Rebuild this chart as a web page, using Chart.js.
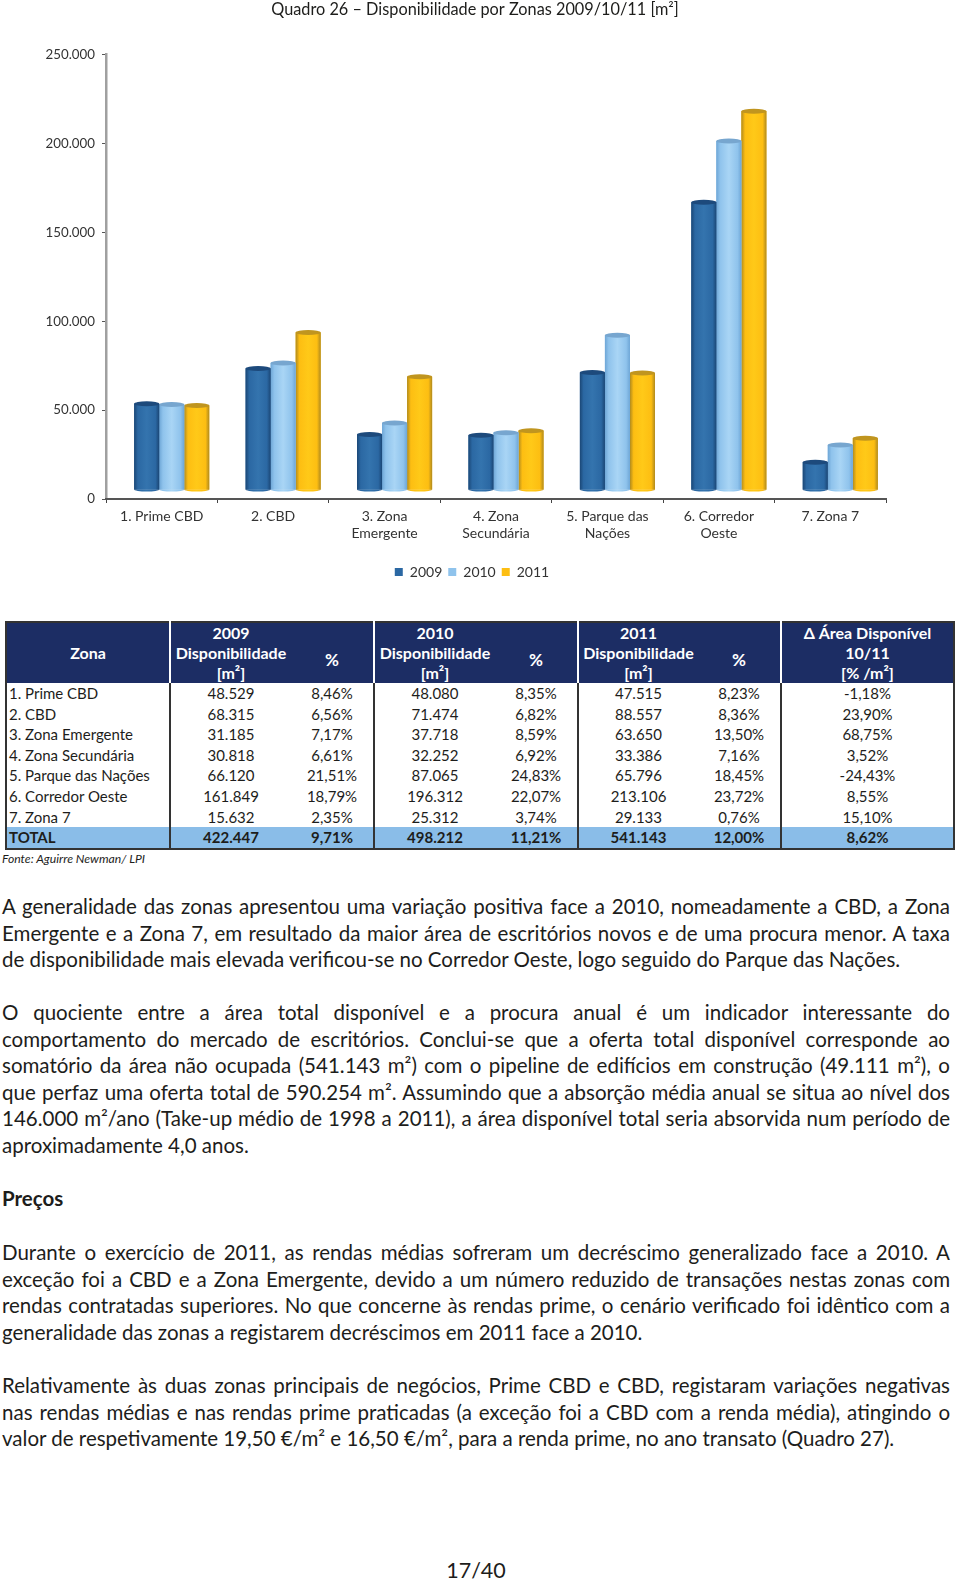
<!DOCTYPE html>
<html lang="pt">
<head>
<meta charset="utf-8">
<title>Quadro 26</title>
<script src="https://cdn.jsdelivr.net/npm/chart.js@4/dist/chart.umd.min.js"></script>
<style>
html, body { margin: 0; padding: 0; background: #fff; }
body { position: relative; width: 960px; height: 1584px; overflow: hidden; font-family: Lato, sans-serif; color: #1d1d1b; }
#chartBox { position: absolute; left: 0; top: 0; width: 960px; height: 595px; }
table { position: absolute; left: 5px; top: 621px; width: 948px; border-collapse: collapse; table-layout: fixed; font-size: 15px; border: 2px solid #333; }
th { background: #1c2d64; color: #fff; font-size: 16px; font-weight: 700; line-height: 20px; padding: 0; text-align: center; }
th.pct { padding-top: 14px; font-size: 17px; }
td { height: 20.6px; line-height: 20.6px; padding: 0; text-align: center; }
td:first-child { text-align: left; padding-left: 2px; }
.sep { border-left: 2px solid #333; }
th.sep { border-left: 2px solid #fff; }
tr.total td { background: #8abde8; font-weight: 700; }
#fonte { position: absolute; left: 2px; top: 851px; font-size: 12.2px; font-style: italic; }
.bloco { position: absolute; left: 2px; width: 948px; font-size: 20.5px; line-height: 26.5px; }
.bloco div { text-align: justify; text-align-last: justify; white-space: nowrap; }
.bloco div.fim { text-align-last: left; }
#pag { position: absolute; left: 0; width: 952px; top: 1555px; line-height: 30px; text-align: center; font-size: 21.5px; }
</style>
</head>
<body>
<div id="chartBox"><canvas id="chartDisp"></canvas></div>

<table id="tabela">
<colgroup>
<col style="width:164px"><col style="width:121px"><col style="width:83px"><col style="width:121px"><col style="width:83px"><col style="width:120px"><col style="width:83px"><col style="width:173px">
</colgroup>
<thead>
<tr><th rowspan="3">Zona</th><th class="sep">2009</th><th rowspan="3" class="pct">%</th><th class="sep">2010</th><th rowspan="3" class="pct">%</th><th class="sep">2011</th><th rowspan="3" class="pct">%</th><th class="sep">Δ Área Disponível</th></tr>
<tr><th class="sep">Disponibilidade</th><th class="sep">Disponibilidade</th><th class="sep">Disponibilidade</th><th class="sep">10/11</th></tr>
<tr><th class="sep">[m²]</th><th class="sep">[m²]</th><th class="sep">[m²]</th><th class="sep">[% /m²]</th></tr>
</thead>
<tbody id="corpo"></tbody>
</table>
<div id="fonte">Fonte: Aguirre Newman/ LPI</div>

<div class="bloco" style="top:893px">
<div>A generalidade das zonas apresentou uma variação positiva face a 2010, nomeadamente a CBD, a Zona</div>
<div>Emergente e a Zona 7, em resultado da maior área de escritórios novos e de uma procura menor. A taxa</div>
<div class="fim">de disponibilidade mais elevada verificou-se no Corredor Oeste, logo seguido do Parque das Nações.</div>
</div>
<div class="bloco" style="top:999px">
<div>O quociente entre a área total disponível e a procura anual é um indicador interessante do</div>
<div>comportamento do mercado de escritórios. Conclui-se que a oferta total disponível corresponde ao</div>
<div>somatório da área não ocupada (541.143 m²) com o pipeline de edifícios em construção (49.111 m²), o</div>
<div>que perfaz uma oferta total de 590.254 m². Assumindo que a absorção média anual se situa ao nível dos</div>
<div>146.000 m²/ano (Take-up médio de 1998 a 2011), a área disponível total seria absorvida num período de</div>
<div class="fim">aproximadamente 4,0 anos.</div>
</div>
<div class="bloco" style="top:1185px"><div class="fim"><b>Preços</b></div></div>
<div class="bloco" style="top:1239px">
<div>Durante o exercício de 2011, as rendas médias sofreram um decréscimo generalizado face a 2010. A</div>
<div>exceção foi a CBD e a Zona Emergente, devido a um número reduzido de transações nestas zonas com</div>
<div>rendas contratadas superiores. No que concerne às rendas prime, o cenário verificado foi idêntico com a</div>
<div class="fim">generalidade das zonas a registarem decréscimos em 2011 face a 2010.</div>
</div>
<div class="bloco" style="top:1372px">
<div>Relativamente às duas zonas principais de negócios, Prime CBD e CBD, registaram variações negativas</div>
<div>nas rendas médias e nas rendas prime praticadas (a exceção foi a CBD com a renda média), atingindo o</div>
<div class="fim">valor de respetivamente 19,50 €/m² e 16,50 €/m², para a renda prime, no ano transato (Quadro 27).</div>
</div>
<div id="pag">17/40</div>

<script>
// dados do quadro
var zonas = ['1. Prime CBD', '2. CBD', '3. Zona Emergente', '4. Zona Secundária', '5. Parque das Nações', '6. Corredor Oeste', '7. Zona 7'];
var rotulos = ['1. Prime CBD', '2. CBD', ['3. Zona', 'Emergente'], ['4. Zona', 'Secundária'], ['5. Parque das', 'Nações'], ['6. Corredor', 'Oeste'], '7. Zona 7'];
var valores2009 = [48529, 68315, 31185, 30818, 66120, 161849, 15632];
var valores2010 = [48080, 71474, 37718, 32252, 87065, 196312, 25312];
var valores2011 = [47515, 88557, 63650, 33386, 65796, 213106, 29133];
var pct2009 = ['8,46%', '6,56%', '7,17%', '6,61%', '21,51%', '18,79%', '2,35%'];
var pct2010 = ['8,35%', '6,82%', '8,59%', '6,92%', '24,83%', '22,07%', '3,74%'];
var pct2011 = ['8,23%', '8,36%', '13,50%', '7,16%', '18,45%', '23,72%', '0,76%'];
var delta = ['-1,18%', '23,90%', '68,75%', '3,52%', '-24,43%', '8,55%', '15,10%'];
var totais = ['TOTAL', '422.447', '9,71%', '498.212', '11,21%', '541.143', '12,00%', '8,62%'];

function milhar(n) {
    return String(n).replace(/\B(?=(\d{3})+$)/g, '.');
}

// linhas da tabela
var corpo = document.getElementById('corpo');
function linha(celulas, classe) {
    var tr = document.createElement('tr');
    if (classe) tr.className = classe;
    celulas.forEach(function (txt, i) {
        var td = document.createElement('td');
        td.textContent = txt;
        if (i % 2 == 1) td.className = 'sep';
        tr.appendChild(td);
    });
    corpo.appendChild(tr);
}
zonas.forEach(function (z, i) {
    linha([z, milhar(valores2009[i]), pct2009[i], milhar(valores2010[i]), pct2010[i], milhar(valores2011[i]), pct2011[i], delta[i]]);
});
linha(totais, 'total');

// efeito de cilindro 3D das barras do original
var cores = [
    { base: '#2b68a3', borda: '#1b4776', luz: '#3474ae', topo: '#1d4a7c' },
    { base: '#8fc3ec', borda: '#6ea6d6', luz: '#a9d5f5', topo: '#77a6cf' },
    { base: '#fdbe12', borda: '#b08a1e', luz: '#ffc918', topo: '#c0951f' }
];
var desvioX = 10, desvioY = -9;

var cilindros = {
    id: 'cilindros',
    afterLayout: function (chart) {
        // titulo e legenda nao ficam centrados na area do grafico
        chart.titleBlock.left += 10;
        chart.titleBlock.right += 10;
        chart.legend.left += 7;
        chart.legend.right += 7;
    },
    beforeDatasetsDraw: function (chart) {
        chart.ctx.save();
        chart.ctx.translate(desvioX, desvioY);
    },
    afterDatasetDraw: function (chart, args) {
        var ctx = chart.ctx, cor = cores[args.index];
        args.meta.data.forEach(function (bar) {
            var esq = bar.x - bar.width / 2, dir = bar.x + bar.width / 2;
            var g = ctx.createLinearGradient(esq, 0, dir, 0);
            g.addColorStop(0, cor.borda);
            g.addColorStop(0.15, cor.base);
            g.addColorStop(0.5, cor.luz);
            g.addColorStop(0.85, cor.base);
            g.addColorStop(1, cor.borda);
            ctx.fillStyle = g;
            ctx.fillRect(esq, bar.y, bar.width, bar.base - bar.y);
            ctx.beginPath();
            ctx.ellipse(bar.x, bar.base, bar.width / 2, 2, 0, 0, Math.PI);
            ctx.fill();
            ctx.fillStyle = cor.topo;
            ctx.beginPath();
            ctx.ellipse(bar.x, bar.y, bar.width / 2, 2.5, 0, 0, Math.PI * 2);
            ctx.fill();
        });
    },
    afterDatasetsDraw: function (chart) {
        chart.ctx.restore();
    }
};

var ctx = document.getElementById('chartDisp').getContext('2d');
var myChart = new Chart(ctx, {
    type: 'bar',
    data: {
        labels: rotulos,
        datasets: [
            { label: '2009', data: valores2009, backgroundColor: cores[0].base, clip: false },
            { label: '2010', data: valores2010, backgroundColor: cores[1].base, clip: false },
            { label: '2011', data: valores2011, backgroundColor: cores[2].base, clip: false }
        ]
    },
    plugins: [cilindros],
    options: {
        responsive: true,
        maintainAspectRatio: false,
        animation: false,
        categoryPercentage: 0.674,
        barPercentage: 1,
        layout: { padding: { left: 44, right: 74, top: 0, bottom: 6 } },
        plugins: {
            title: {
                display: true,
                text: 'Quadro 26 – Disponibilidade por Zonas 2009/10/11 [m²]',
                color: '#1d1d1b',
                font: { family: 'Lato', size: 16.3, weight: 'normal' },
                padding: { top: 0, bottom: 35 }
            },
            legend: {
                position: 'bottom',
                labels: { boxWidth: 8, boxHeight: 8, color: '#333', font: { family: 'Lato', size: 14 }, padding: 6 }
            },
            tooltip: { enabled: false }
        },
        scales: {
            y: {
                min: 0,
                max: 250000,
                afterFit: function (s) { s.width = 62; },
                ticks: {
                    stepSize: 50000,
                    padding: 7,
                    color: '#333',
                    font: { family: 'Lato', size: 13.3 },
                    callback: function (v) { return milhar(v); }
                },
                grid: { drawOnChartArea: false, tickLength: 4, color: '#555' },
                border: { color: '#a0a0a0', width: 2.5 }
            },
            x: {
                afterFit: function (s) { s.height = 60; },
                ticks: {
                    color: '#333',
                    maxRotation: 0,
                    padding: 5,
                    font: { family: 'Lato', size: 14 }
                },
                grid: { drawOnChartArea: false, tickLength: 4, color: '#444' },
                border: { color: '#555', width: 2 }
            }
        }
    }
});
</script>
</body>
</html>
